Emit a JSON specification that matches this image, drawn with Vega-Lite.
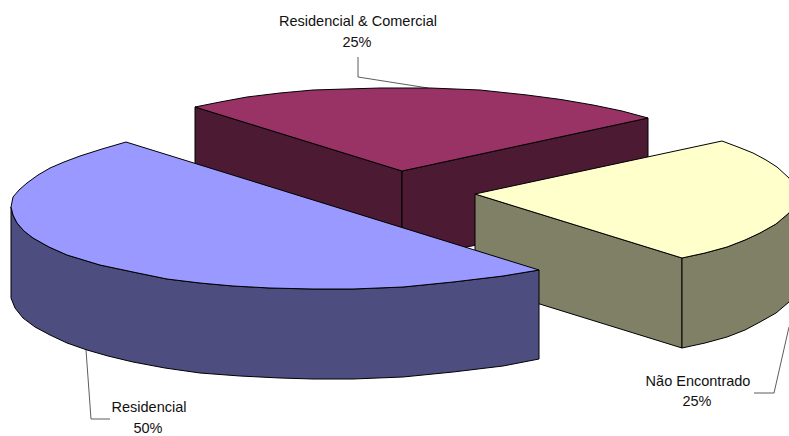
{"$schema":"https://vega.github.io/schema/vega-lite/v6.json","width":789,"height":436,"padding":0,"autosize":{"type":"none"},"background":"white","config":{"view":{"stroke":null}},
"datasets":{"faces":[
{"f":"a","i":0,"x":195,"y":107},{"f":"a","i":1,"x":402,"y":171},{"f":"a","i":2,"x":402,"y":261},{"f":"a","i":3,"x":195,"y":197},{"f":"a","i":4,"x":195,"y":107},
{"f":"b","i":0,"x":402,"y":171},{"f":"b","i":1,"x":648,"y":118},{"f":"b","i":2,"x":648,"y":208},{"f":"b","i":3,"x":402,"y":261},{"f":"b","i":4,"x":402,"y":171},
{"f":"c","i":0,"x":195,"y":107},{"f":"c","i":1,"x":220,"y":102},{"f":"c","i":2,"x":247,"y":97},{"f":"c","i":3,"x":280,"y":93},{"f":"c","i":4,"x":313,"y":90},{"f":"c","i":5,"x":346,"y":89},{"f":"c","i":6,"x":380,"y":88},{"f":"c","i":7,"x":430,"y":88},{"f":"c","i":8,"x":480,"y":90},{"f":"c","i":9,"x":527,"y":95},{"f":"c","i":10,"x":561,"y":99.5},{"f":"c","i":11,"x":593,"y":105},{"f":"c","i":12,"x":622,"y":111},{"f":"c","i":13,"x":648,"y":118},{"f":"c","i":14,"x":402,"y":171},{"f":"c","i":15,"x":195,"y":107},
{"f":"d","i":0,"x":475,"y":194},{"f":"d","i":1,"x":682,"y":258},{"f":"d","i":2,"x":682,"y":348},{"f":"d","i":3,"x":475,"y":284},{"f":"d","i":4,"x":475,"y":194},
{"f":"e","i":0,"x":682,"y":258},{"f":"e","i":1,"x":705,"y":253},{"f":"e","i":2,"x":727,"y":247},{"f":"e","i":3,"x":745,"y":240},{"f":"e","i":4,"x":760,"y":233},{"f":"e","i":5,"x":776,"y":224},{"f":"e","i":6,"x":789,"y":213},{"f":"e","i":7,"x":800,"y":200},{"f":"e","i":8,"x":800,"y":290},{"f":"e","i":9,"x":789,"y":302},{"f":"e","i":10,"x":776,"y":313},{"f":"e","i":11,"x":760,"y":322},{"f":"e","i":12,"x":745,"y":330},{"f":"e","i":13,"x":727,"y":337},{"f":"e","i":14,"x":705,"y":343},{"f":"e","i":15,"x":682,"y":348},{"f":"e","i":16,"x":682,"y":258},
{"f":"g","i":0,"x":475,"y":194},{"f":"g","i":1,"x":722,"y":141},{"f":"g","i":2,"x":738,"y":147},{"f":"g","i":3,"x":753,"y":153},{"f":"g","i":4,"x":766,"y":160},{"f":"g","i":5,"x":777,"y":167},{"f":"g","i":6,"x":789,"y":178},{"f":"g","i":7,"x":800,"y":195},{"f":"g","i":8,"x":789,"y":213},{"f":"g","i":9,"x":776,"y":224},{"f":"g","i":10,"x":760,"y":233},{"f":"g","i":11,"x":745,"y":240},{"f":"g","i":12,"x":727,"y":247},{"f":"g","i":13,"x":705,"y":253},{"f":"g","i":14,"x":682,"y":258},{"f":"g","i":15,"x":475,"y":194},
{"f":"h","i":0,"x":11,"y":207},{"f":"h","i":1,"x":13,"y":215},{"f":"h","i":2,"x":17,"y":223},{"f":"h","i":3,"x":24,"y":231},{"f":"h","i":4,"x":33,"y":238},{"f":"h","i":5,"x":49,"y":247},{"f":"h","i":6,"x":67,"y":255},{"f":"h","i":7,"x":100,"y":265},{"f":"h","i":8,"x":133,"y":272},{"f":"h","i":9,"x":167,"y":279},{"f":"h","i":10,"x":200,"y":283},{"f":"h","i":11,"x":233,"y":286},{"f":"h","i":12,"x":270,"y":288},{"f":"h","i":13,"x":313,"y":289},{"f":"h","i":14,"x":353,"y":289},{"f":"h","i":15,"x":403,"y":287},{"f":"h","i":16,"x":453,"y":282},{"f":"h","i":17,"x":503,"y":276},{"f":"h","i":18,"x":539,"y":270},{"f":"h","i":19,"x":539,"y":359},{"f":"h","i":20,"x":503,"y":366},{"f":"h","i":21,"x":453,"y":372},{"f":"h","i":22,"x":403,"y":377},{"f":"h","i":23,"x":353,"y":379},{"f":"h","i":24,"x":313,"y":379},{"f":"h","i":25,"x":280,"y":378},{"f":"h","i":26,"x":240,"y":376},{"f":"h","i":27,"x":200,"y":373},{"f":"h","i":28,"x":165,"y":368},{"f":"h","i":29,"x":133,"y":362},{"f":"h","i":30,"x":108,"y":356},{"f":"h","i":31,"x":87,"y":350},{"f":"h","i":32,"x":67,"y":343},{"f":"h","i":33,"x":50,"y":335},{"f":"h","i":34,"x":35,"y":327},{"f":"h","i":35,"x":23,"y":318},{"f":"h","i":36,"x":15,"y":308},{"f":"h","i":37,"x":11,"y":298},{"f":"h","i":38,"x":11,"y":207},
{"f":"j","i":0,"x":126,"y":142},{"f":"j","i":1,"x":102,"y":149},{"f":"j","i":2,"x":80,"y":156},{"f":"j","i":3,"x":64,"y":162},{"f":"j","i":4,"x":50,"y":168},{"f":"j","i":5,"x":38,"y":175},{"f":"j","i":6,"x":27,"y":183},{"f":"j","i":7,"x":19,"y":190},{"f":"j","i":8,"x":13,"y":197},{"f":"j","i":9,"x":11,"y":207},{"f":"j","i":10,"x":13,"y":215},{"f":"j","i":11,"x":17,"y":223},{"f":"j","i":12,"x":24,"y":231},{"f":"j","i":13,"x":33,"y":238},{"f":"j","i":14,"x":49,"y":247},{"f":"j","i":15,"x":67,"y":255},{"f":"j","i":16,"x":100,"y":265},{"f":"j","i":17,"x":133,"y":272},{"f":"j","i":18,"x":167,"y":279},{"f":"j","i":19,"x":200,"y":283},{"f":"j","i":20,"x":233,"y":286},{"f":"j","i":21,"x":270,"y":288},{"f":"j","i":22,"x":313,"y":289},{"f":"j","i":23,"x":353,"y":289},{"f":"j","i":24,"x":403,"y":287},{"f":"j","i":25,"x":453,"y":282},{"f":"j","i":26,"x":503,"y":276},{"f":"j","i":27,"x":539,"y":270},{"f":"j","i":28,"x":126,"y":142}
],
"leaders":[
{"l":"top","i":0,"x":358,"y":57},{"l":"top","i":1,"x":358,"y":77},{"l":"top","i":2,"x":428,"y":88},
{"l":"left","i":0,"x":86,"y":350},{"l":"left","i":1,"x":91,"y":419},{"l":"left","i":2,"x":110,"y":419},
{"l":"right","i":0,"x":789,"y":327},{"l":"right","i":1,"x":774,"y":393},{"l":"right","i":2,"x":754,"y":393}
],
"labels":[
{"t":"Residencial & Comercial","x":358,"y":22},{"t":"25%","x":357,"y":43},
{"t":"Não Encontrado","x":698,"y":382},{"t":"25%","x":697,"y":402},
{"t":"Residencial","x":149,"y":408},{"t":"50%","x":148,"y":429}
]},
"layer":[
{"data":{"name":"leaders"},"mark":{"type":"line","stroke":"#333333","strokeWidth":0.8,"clip":true},"encoding":{"x":{"field":"x","type":"quantitative","scale":{"domain":[0,789]},"axis":null},"y":{"field":"y","type":"quantitative","scale":{"domain":[436,0]},"axis":null},"detail":{"field":"l"},"order":{"field":"i"}}},
{"data":{"name":"faces"},"mark":{"type":"line","stroke":"black","strokeWidth":1,"clip":true},"encoding":{"x":{"field":"x","type":"quantitative","scale":{"domain":[0,789]},"axis":null},"y":{"field":"y","type":"quantitative","scale":{"domain":[436,0]},"axis":null},"fill":{"field":"f","type":"nominal","legend":null,"scale":{"domain":["a","b","c","d","e","g","h","j"],"range":["#4D1A33","#4D1A33","#993366","#808066","#808066","#FFFFCC","#4D4D80","#9999FF"]}},"order":{"field":"i"}}},
{"data":{"name":"labels"},"mark":{"type":"text","font":"Liberation Sans","fontSize":14.5,"color":"#111111","align":"center","baseline":"middle"},"encoding":{"x":{"field":"x","type":"quantitative","scale":{"domain":[0,789]},"axis":null},"y":{"field":"y","type":"quantitative","scale":{"domain":[436,0]},"axis":null},"text":{"field":"t"}}}
]}
